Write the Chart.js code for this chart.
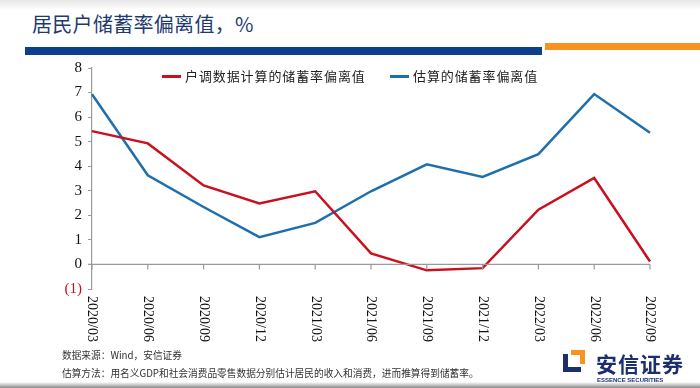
<!DOCTYPE html>
<html>
<head>
<meta charset="utf-8">
<script src="https://cdn.jsdelivr.net/npm/chart.js@4"></script>
<style>
  html, body { margin: 0; padding: 0; background: #fff; }
  #page { position: relative; width: 700px; height: 388px; overflow: hidden; background: #fff; }
  #topShade { position: absolute; left: 0; top: 0; width: 700px; height: 10px; background: linear-gradient(#e6e6e6, #fff); }
  #title { position: absolute; left: 32px; top: 9px; font: 20px "Noto Sans CJK SC", sans-serif; letter-spacing: 0.3px; color: #1e3a6e; }
  #barBlue { position: absolute; left: 25px; top: 47px; width: 517px; height: 8px; background: #0d3f8f; }
  #barOrange { position: absolute; left: 545px; top: 43px; width: 155px; height: 7px; background: #f7931e; }
  canvas { position: absolute; left: 0; top: 0; }
  .leg { position: absolute; top: 66px; font: 13px "Noto Sans CJK SC", serif; letter-spacing: 0.9px; color: #222; white-space: nowrap; }
  .leg i { display: inline-block; width: 19px; height: 2.5px; vertical-align: middle; margin-right: 4px; position: relative; top: -1px; }
  .note { position: absolute; left: 62px; font: 9.7px "Noto Sans CJK SC", serif; color: #333; white-space: nowrap; }
  #logoIcon { position: absolute; left: 563px; top: 350px; width: 22px; height: 22px; }
  #logoText { position: absolute; left: 596px; top: 348px; font: bold 21px "Noto Sans CJK SC", sans-serif; color: #1b2f6e; letter-spacing: 1px; }
  #logoSub { position: absolute; left: 597px; top: 377px; font: bold 6px Arial, sans-serif; color: #1b2f6e; }
  #bottomShade { position: absolute; left: 0; top: 382px; width: 700px; height: 6px; background: linear-gradient(#fff, #888); }
</style>
</head>
<body>
<div id="page">
  <div id="topShade"></div>
  <div id="title">居民户储蓄率偏离值，%</div>
  <div id="barBlue"></div>
  <div id="barOrange"></div>
  <canvas id="chart" width="700" height="388"></canvas>
  <div id="legend"></div>
  <div class="note" style="top:348px">数据来源：Wind，安信证券</div>
  <div class="note" style="top:366px">估算方法：用名义GDP和社会消费品零售数据分别估计居民的收入和消费，进而推算得到储蓄率。</div>
  <svg id="logoIcon" viewBox="0 0 22 22">
    <path d="M0 4 H5 V17 H18 V22 H0 Z" fill="#1b2f6e"/>
    <path d="M8 0 H22 V14 H17 V5 H8 Z" fill="#f7931e"/>
  </svg>
  <div id="logoText">安信证券</div>
  <div id="logoSub">ESSENCE SECURITIES</div>
  <div id="bottomShade"></div>
</div>
<script>
const categories = ['2020/03', '2020/06', '2020/09', '2020/12', '2021/03', '2021/06',
                    '2021/09', '2021/12', '2022/03', '2022/06', '2022/09'];
const seriesNames = ['户调数据计算的储蓄率偏离值', '估算的储蓄率偏离值'];
const surveyValues = [5.43, 4.93, 3.22, 2.48, 2.98, 0.45, -0.24, -0.15, 2.23, 3.52, 0.12];
const estimateValues = [6.93, 3.63, 2.34, 1.11, 1.69, 2.98, 4.08, 3.56, 4.49, 6.94, 5.36];
const yTicks = [-1, 0, 1, 2, 3, 4, 5, 6, 7, 8];
const colors = ['#c8101e', '#1f6fad'];

// Legend built from the series names
const legend = document.getElementById('legend');
const legendLeft = [162, 390];
seriesNames.forEach(function(name, i) {
    const item = document.createElement('div');
    item.className = 'leg';
    item.style.left = legendLeft[i] + 'px';
    item.innerHTML = '<i style="background:' + colors[i] + '"></i>' + name;
    legend.appendChild(item);
});

function fmtTick(v) {
    return v < 0 ? '(' + Math.abs(v) + ')' : String(v);
}

// Zero line, downward ticks and top-to-bottom rotated category labels
const xAxisPlugin = {
    id: 'xAxisPlugin',
    afterDatasetsDraw: function(chart) {
        const ctx = chart.ctx;
        const xs = chart.scales.x;
        const y0 = chart.scales.y.getPixelForValue(0);
        ctx.save();
        ctx.strokeStyle = '#9a9a9a';
        ctx.lineWidth = 1.2;
        ctx.beginPath();
        ctx.moveTo(chart.chartArea.left - 4, y0);
        ctx.lineTo(xs.getPixelForTick(categories.length - 1), y0);
        categories.forEach(function(c, i) {
            const px = xs.getPixelForTick(i);
            ctx.moveTo(px, y0);
            ctx.lineTo(px, y0 + 5);
        });
        ctx.stroke();
        ctx.fillStyle = '#111';
        ctx.font = '14px "Liberation Serif", serif';
        ctx.textAlign = 'left';
        ctx.textBaseline = 'middle';
        categories.forEach(function(c, i) {
            const px = xs.getPixelForTick(i);
            ctx.save();
            ctx.translate(px, 296);
            ctx.rotate(Math.PI / 2);
            ctx.fillText(c, 0, 0);
            ctx.restore();
        });
        ctx.restore();
    }
};

const chart = new Chart(document.getElementById('chart').getContext('2d'), {
    type: 'line',
    data: {
        labels: categories,
        datasets: [
            { label: seriesNames[0], data: surveyValues, borderColor: colors[0], borderWidth: 2.5 },
            { label: seriesNames[1], data: estimateValues, borderColor: colors[1], borderWidth: 2.5 }
        ]
    },
    options: {
        responsive: false,
        animation: false,
        layout: { padding: { left: 0, top: 68, right: 50, bottom: 99 } },
        elements: { point: { radius: 0 }, line: { tension: 0 } },
        plugins: { legend: { display: false }, tooltip: { enabled: false } },
        scales: {
            x: {
                offset: false,
                grid: { display: false },
                border: { display: false },
                ticks: { display: false },
                afterFit: function(scale) { scale.height = 0; }
            },
            y: {
                min: -1,
                max: 8,
                afterBuildTicks: function(scale) {
                    scale.ticks = yTicks.map(function(v) { return { value: v }; });
                },
                afterFit: function(scale) { scale.width = 92; },
                grid: { drawOnChartArea: false, tickLength: 4, color: '#9a9a9a' },
                border: { display: true, color: '#9a9a9a', width: 1.2 },
                ticks: {
                    padding: 6,
                    font: { family: '"Liberation Serif", serif', size: 15 },
                    color: function(ctx) { return ctx.tick && ctx.tick.value < 0 ? '#c8101e' : '#111'; },
                    callback: function(v) { return fmtTick(v); }
                }
            }
        }
    },
    plugins: [xAxisPlugin]
});
</script>
</body>
</html>
